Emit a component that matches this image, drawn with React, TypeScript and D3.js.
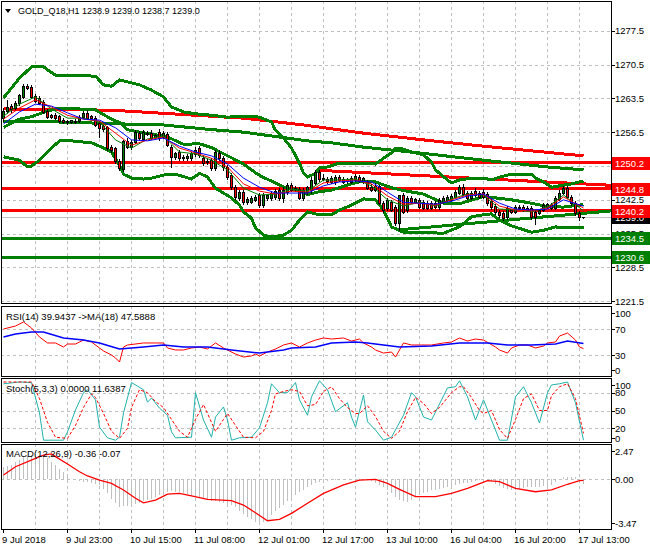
import React from 'react';
import * as d3 from 'd3';

// H1 bars, [open, high, low, close]
const ohlc: number[][] = [
  [1259.4, 1261.5, 1258.8, 1260.9], [1260.9, 1263.2, 1260.5, 1261.7], [1261.9, 1262.3, 1260.7, 1261.3],
  [1261.5, 1262.9, 1261.1, 1262.5], [1262.5, 1264.4, 1262.1, 1264.2], [1263.8, 1266.5, 1263.6, 1266.0],
  [1266.0, 1266.5, 1265.4, 1265.6], [1265.8, 1266.3, 1263.6, 1263.8], [1264.0, 1264.4, 1262.7, 1262.9],
  [1263.6, 1264.0, 1262.3, 1262.5], [1262.7, 1263.2, 1260.5, 1260.7], [1260.9, 1261.3, 1259.4, 1259.6],
  [1260.0, 1260.3, 1259.4, 1259.6], [1260.0, 1260.5, 1259.2, 1259.4], [1259.8, 1260.0, 1258.6, 1258.8],
  [1259.0, 1259.4, 1258.4, 1258.6], [1258.6, 1259.0, 1258.2, 1258.8], [1258.6, 1259.0, 1258.4, 1259.0],
  [1258.8, 1259.2, 1258.4, 1258.6], [1258.8, 1260.0, 1258.6, 1259.6], [1259.6, 1260.9, 1259.4, 1260.5],
  [1260.5, 1261.1, 1259.2, 1259.4], [1259.8, 1260.0, 1259.2, 1259.4], [1259.4, 1259.8, 1257.8, 1258.0],
  [1258.4, 1258.8, 1255.5, 1257.4], [1257.8, 1258.0, 1256.7, 1257.1], [1257.6, 1257.8, 1252.8, 1253.2],
  [1253.4, 1253.8, 1252.4, 1252.8], [1253.2, 1253.4, 1250.1, 1250.5], [1250.5, 1250.9, 1248.7, 1249.1],
  [1248.9, 1254.9, 1248.5, 1254.7], [1254.7, 1255.3, 1253.2, 1253.4], [1253.4, 1254.9, 1253.0, 1254.5],
  [1254.5, 1256.9, 1254.3, 1256.5], [1256.3, 1256.7, 1254.9, 1255.3], [1255.1, 1256.9, 1254.9, 1256.5],
  [1256.3, 1256.7, 1255.9, 1256.1], [1256.3, 1256.9, 1255.1, 1255.3], [1255.5, 1256.1, 1255.1, 1255.9],
  [1256.5, 1257.1, 1254.9, 1255.3], [1255.5, 1256.7, 1255.3, 1256.3], [1256.1, 1256.5, 1253.6, 1253.8],
  [1253.4, 1253.8, 1249.3, 1251.4], [1251.4, 1252.4, 1250.9, 1252.2], [1252.4, 1252.8, 1250.7, 1251.1],
  [1251.4, 1251.8, 1250.7, 1251.1], [1251.1, 1252.0, 1250.7, 1251.6], [1251.1, 1252.4, 1250.7, 1252.2],
  [1252.0, 1253.4, 1251.6, 1252.8], [1253.2, 1253.6, 1251.4, 1251.8], [1251.1, 1251.8, 1249.7, 1250.1],
  [1250.3, 1250.9, 1249.9, 1250.5], [1250.7, 1251.1, 1248.7, 1249.1], [1249.1, 1252.8, 1248.7, 1252.4],
  [1252.2, 1252.8, 1250.7, 1251.1], [1251.1, 1251.6, 1248.7, 1249.3], [1249.3, 1249.7, 1246.8, 1247.2],
  [1247.6, 1248.0, 1244.7, 1245.1], [1245.1, 1245.6, 1242.7, 1243.1], [1242.9, 1244.5, 1242.5, 1244.1],
  [1244.1, 1244.5, 1241.6, 1242.0], [1242.0, 1243.1, 1241.6, 1242.7], [1242.0, 1243.3, 1241.8, 1242.9],
  [1242.5, 1243.5, 1242.2, 1243.1], [1243.5, 1243.9, 1241.0, 1241.4], [1241.4, 1243.9, 1241.0, 1243.5],
  [1242.9, 1243.7, 1242.5, 1243.5], [1242.9, 1244.3, 1242.5, 1243.9], [1243.1, 1244.7, 1242.7, 1244.3],
  [1244.5, 1244.9, 1242.5, 1242.9], [1242.9, 1245.1, 1242.0, 1244.5], [1244.1, 1246.0, 1243.7, 1245.6],
  [1245.6, 1246.0, 1244.3, 1244.5], [1244.9, 1245.4, 1244.3, 1244.7], [1244.7, 1245.1, 1242.7, 1242.9],
  [1242.9, 1244.9, 1242.5, 1244.5], [1244.1, 1245.4, 1243.7, 1245.1], [1244.5, 1247.2, 1243.9, 1246.6],
  [1246.0, 1248.7, 1245.6, 1248.2], [1248.2, 1248.7, 1246.4, 1246.8], [1247.0, 1247.8, 1246.6, 1246.8],
  [1246.8, 1247.2, 1246.0, 1246.4], [1246.2, 1247.4, 1246.0, 1247.0], [1246.2, 1247.6, 1245.8, 1247.2],
  [1247.2, 1247.6, 1246.4, 1246.6], [1246.8, 1247.2, 1246.0, 1246.2], [1246.4, 1247.0, 1246.0, 1246.6],
  [1246.2, 1247.4, 1246.0, 1247.0], [1246.6, 1247.8, 1246.4, 1247.4], [1247.2, 1247.6, 1246.2, 1246.4],
  [1246.2, 1247.2, 1246.0, 1247.0], [1246.2, 1246.6, 1244.7, 1244.9], [1245.1, 1245.8, 1244.3, 1244.5],
  [1244.5, 1246.0, 1244.3, 1245.4], [1245.4, 1245.6, 1241.6, 1241.8], [1241.8, 1242.2, 1240.0, 1240.4],
  [1240.8, 1242.9, 1240.4, 1242.5], [1242.0, 1242.5, 1240.2, 1240.4], [1241.0, 1241.4, 1237.3, 1237.7],
  [1237.7, 1243.5, 1236.2, 1243.5], [1243.5, 1243.9, 1239.8, 1240.0], [1240.4, 1243.3, 1240.0, 1242.9],
  [1242.9, 1243.3, 1241.8, 1242.0], [1242.0, 1242.9, 1241.8, 1242.7], [1242.5, 1242.9, 1240.8, 1241.0],
  [1242.0, 1242.5, 1240.6, 1240.8], [1241.8, 1242.2, 1240.6, 1240.8], [1241.8, 1242.2, 1240.6, 1240.8],
  [1241.8, 1242.2, 1240.8, 1241.0], [1241.0, 1242.9, 1240.6, 1242.5], [1242.0, 1243.3, 1241.8, 1242.9],
  [1242.5, 1243.5, 1242.2, 1243.1], [1242.5, 1243.7, 1242.2, 1243.3], [1243.1, 1244.5, 1242.9, 1244.1],
  [1243.9, 1245.6, 1243.7, 1245.1], [1245.1, 1245.8, 1243.5, 1243.7], [1243.9, 1244.3, 1242.7, 1242.9],
  [1242.9, 1244.3, 1242.7, 1243.9], [1244.3, 1244.9, 1243.3, 1243.5], [1243.9, 1244.3, 1242.9, 1243.1],
  [1244.1, 1244.7, 1242.9, 1243.1], [1243.7, 1244.1, 1241.4, 1241.8], [1242.2, 1242.7, 1240.6, 1241.0],
  [1241.2, 1241.6, 1239.6, 1240.0], [1240.0, 1240.4, 1238.9, 1239.4], [1239.8, 1240.2, 1238.3, 1238.7],
  [1238.9, 1241.2, 1238.5, 1240.8], [1240.4, 1240.6, 1239.8, 1240.0], [1240.0, 1241.4, 1239.8, 1241.0],
  [1241.0, 1241.4, 1240.6, 1240.8], [1241.0, 1241.4, 1240.2, 1240.4], [1240.8, 1241.2, 1240.2, 1240.4],
  [1240.8, 1241.2, 1238.5, 1238.9], [1240.0, 1240.4, 1237.5, 1238.9], [1239.8, 1240.6, 1239.6, 1240.4],
  [1240.4, 1241.8, 1240.2, 1241.4], [1241.0, 1241.8, 1240.8, 1241.6], [1241.4, 1241.8, 1240.6, 1240.8],
  [1240.8, 1243.3, 1240.6, 1242.9], [1242.7, 1244.5, 1242.5, 1243.9], [1243.9, 1245.4, 1243.7, 1244.9],
  [1244.9, 1245.4, 1242.9, 1243.1], [1243.1, 1243.5, 1241.4, 1241.8], [1241.8, 1242.2, 1239.4, 1239.8],
  [1239.8, 1240.2, 1238.3, 1238.9], [1238.9, 1239.0, 1238.7, 1239.0],
];

// [bar, price]
const maBlue = [[0, 1258.2], [4, 1260.7], [8, 1262.3], [12, 1261.9], [16, 1260.5], [20, 1259.2], [24, 1259.0], [28, 1257.4], [32, 1254.9], [36, 1254.7], [40, 1255.3], [44, 1253.6], [48, 1252.4], [52, 1251.6], [56, 1249.9], [60, 1247.0], [64, 1245.1], [68, 1243.9], [72, 1243.9], [76, 1243.9], [80, 1245.4], [84, 1246.2], [88, 1246.4], [92, 1246.2], [96, 1244.1], [100, 1242.0], [104, 1241.8], [108, 1241.6], [112, 1242.2], [116, 1243.3], [120, 1243.7], [124, 1241.8], [128, 1240.6], [132, 1240.4], [136, 1240.6], [140, 1242.5], [145, 1241.2]];
const maRed = [[0, 1259.2], [4, 1261.5], [8, 1263.2], [12, 1261.7], [16, 1260.0], [20, 1259.2], [24, 1258.8], [28, 1256.3], [32, 1253.8], [36, 1254.9], [40, 1255.5], [44, 1253.2], [48, 1252.2], [52, 1251.1], [56, 1249.3], [60, 1245.8], [64, 1244.3], [68, 1243.7], [72, 1244.3], [76, 1244.1], [80, 1246.0], [84, 1246.4], [88, 1246.6], [92, 1245.8], [96, 1243.3], [100, 1241.6], [104, 1241.8], [108, 1241.4], [112, 1242.5], [116, 1243.5], [120, 1243.7], [124, 1241.2], [128, 1240.4], [132, 1240.2], [136, 1240.8], [140, 1243.1], [145, 1240.8]];
const maGreen = [[0, 1259.8], [4, 1262.3], [8, 1263.8], [12, 1261.3], [16, 1259.4], [20, 1259.4], [24, 1258.6], [28, 1254.9], [32, 1253.2], [36, 1255.1], [40, 1255.7], [44, 1252.4], [48, 1252.0], [52, 1250.7], [56, 1248.7], [60, 1244.9], [64, 1243.5], [68, 1243.7], [72, 1244.7], [76, 1244.3], [80, 1246.6], [84, 1246.6], [88, 1246.8], [92, 1245.4], [96, 1242.5], [100, 1241.2], [104, 1242.0], [108, 1241.2], [112, 1242.7], [116, 1243.7], [120, 1243.5], [124, 1240.6], [128, 1240.4], [132, 1240.0], [136, 1241.0], [140, 1243.5], [145, 1240.2]];

const bandUpper = [[0, 1263.6], [4, 1267.7], [7, 1270.0], [10, 1270.0], [13, 1268.3], [23, 1268.1], [25, 1266.3], [27, 1266.0], [29, 1267.3], [31, 1266.9], [34, 1266.3], [37, 1265.2], [40, 1263.8], [42, 1261.7], [45, 1260.7], [48, 1260.3], [52, 1260.0], [56, 1259.6], [59, 1259.8], [62, 1259.8], [64, 1259.6], [67, 1258.6], [68, 1256.9], [70, 1255.3], [72, 1253.2], [74, 1250.1], [75, 1248.0], [76, 1247.2], [78, 1248.0], [79, 1249.1], [81, 1249.3], [84, 1250.1], [87, 1250.1], [90, 1250.1], [93, 1249.9], [95, 1251.1], [97, 1252.2], [98, 1253.2], [100, 1253.0], [102, 1252.4], [105, 1251.8], [107, 1250.3], [108, 1248.7], [111, 1246.6], [112, 1246.0], [114, 1246.6], [117, 1247.0], [120, 1247.0], [122, 1246.6], [124, 1247.2], [127, 1247.8], [132, 1247.8], [133, 1247.0], [135, 1246.2], [137, 1245.1], [139, 1245.4], [142, 1245.8], [145, 1246.4]];
const bandMiddle = [[0, 1257.5], [4, 1259.2], [7, 1259.7], [10, 1260.6], [13, 1261.3], [17, 1261.4], [23, 1261.1], [27, 1259.2], [29, 1258.5], [31, 1257.0], [34, 1256.5], [37, 1256.1], [41, 1255.5], [45, 1254.0], [49, 1254.1], [52, 1253.3], [57, 1251.2], [60, 1249.9], [63, 1248.1], [65, 1247.1], [67, 1246.4], [70, 1245.2], [72, 1244.7], [74, 1244.5], [76, 1243.6], [79, 1244.2], [82, 1244.5], [87, 1245.8], [90, 1246.4], [93, 1246.2], [97, 1245.0], [100, 1244.4], [105, 1243.7], [110, 1241.8], [114, 1241.7], [120, 1243.2], [124, 1242.8], [127, 1242.5], [132, 1241.8], [136, 1241.1], [140, 1241.0], [145, 1241.5]];
const bandLower = [[0, 1251.4], [4, 1250.7], [6, 1249.3], [7, 1249.5], [9, 1250.7], [12, 1253.2], [14, 1254.7], [17, 1254.7], [22, 1254.3], [24, 1253.6], [27, 1252.4], [29, 1249.7], [30, 1247.8], [32, 1247.0], [35, 1246.8], [37, 1247.0], [41, 1247.8], [43, 1247.8], [47, 1246.8], [49, 1248.0], [51, 1247.2], [53, 1244.9], [57, 1242.9], [59, 1241.4], [60, 1240.0], [62, 1238.7], [63, 1236.7], [65, 1235.2], [67, 1234.8], [70, 1235.2], [72, 1236.2], [74, 1238.3], [76, 1240.0], [79, 1239.4], [82, 1239.4], [84, 1240.4], [87, 1241.4], [90, 1242.7], [93, 1242.5], [95, 1240.4], [97, 1236.9], [100, 1235.8], [110, 1235.6], [114, 1236.9], [117, 1239.0], [120, 1239.4], [122, 1239.6], [124, 1238.3], [127, 1237.1], [132, 1235.8], [135, 1236.2], [138, 1236.9], [140, 1236.7], [145, 1236.7]];
const maSlowGreen = [[0, 1258.8], [14, 1258.6], [30, 1258.2], [40, 1258.0], [51, 1257.1], [60, 1256.5], [69, 1255.5], [76, 1254.7], [82, 1254.3], [90, 1253.4], [104, 1252.2], [120, 1250.7], [127, 1250.1], [136, 1249.3], [145, 1248.7]];
const maSlowRed = [[0, 1261.3], [23, 1261.1], [30, 1260.9], [60, 1259.4], [75, 1258.0], [90, 1256.3], [105, 1254.9], [120, 1253.6], [145, 1251.6]];

// trend lines drawn as rays: two anchors [bar, price]
const trendRed = [[79, 1248.6], [145, 1245.8]];
const trendGreen = [[99, 1236.3], [145, 1239.7]];

const redLevels = [1250.2, 1244.8, 1240.2];
const greenLevels = [1234.5, 1230.6];
const lastPrice = 1239.0;
const priceTicks = [1277.5, 1270.5, 1263.5, 1256.5, 1249.5, 1242.5, 1235.5, 1228.5, 1221.5];

const timeBars = [0, 16, 32, 48, 64, 80, 96, 112, 128, 144];
const timeLabels = ['9 Jul 2018', '9 Jul 23:00', '10 Jul 15:00', '11 Jul 08:00', '12 Jul 01:00', '12 Jul 17:00', '13 Jul 10:00', '16 Jul 04:00', '16 Jul 20:00', '17 Jul 13:00'];

const rsi = [[0, 70], [3, 74.6], [5, 80.8], [7, 71.5], [9, 57.7], [11, 48.5], [13, 48.5], [15, 42.3], [16, 46.9], [18, 46.9], [20, 53], [22, 50], [24, 40.8], [25, 36.2], [27, 30], [28, 25.4], [29, 19.2], [30, 42.3], [31, 45.4], [35, 48.5], [38, 48.5], [40, 48.5], [41, 40.8], [43, 37.7], [45, 37.7], [47, 40.8], [49, 42.3], [51, 39.2], [53, 48.5], [55, 40.8], [56, 37.7], [58, 31.5], [60, 26.9], [62, 28.5], [63, 31.5], [64, 28.5], [66, 34.6], [68, 39.2], [70, 45.4], [72, 48.5], [74, 42.3], [76, 48.5], [78, 53], [80, 56.2], [82, 54.6], [85, 56.2], [87, 51.5], [89, 54.6], [90, 48.5], [92, 42.3], [93, 37.7], [95, 33], [97, 34.6], [98, 26.9], [100, 48.5], [102, 45.4], [104, 45.4], [107, 45.4], [110, 48.5], [112, 50], [114, 56.2], [116, 51.5], [118, 54.6], [120, 53], [123, 42.3], [124, 37.7], [126, 33], [127, 40.8], [129, 45.4], [131, 45.4], [133, 40.8], [135, 43.8], [136, 48.5], [138, 50], [139, 59.2], [141, 63.8], [143, 53], [144, 42.3], [145, 39.9]];
const rsiMa = [[0, 57.7], [3, 62.3], [7, 65.4], [10, 65.4], [15, 56.2], [20, 53], [24, 48.5], [29, 39.2], [35, 42.3], [40, 45.4], [45, 42.3], [51, 42.3], [57, 37.7], [64, 33], [70, 37.7], [72, 40.8], [78, 42.3], [82, 48.5], [88, 50], [91, 48.5], [97, 43.8], [99, 42.3], [107, 43.8], [114, 48.5], [121, 48.5], [126, 45.4], [132, 45.4], [138, 46.9], [141, 51.5], [145, 47.6]];

const stochMain = [[0, 95], [4, 98], [7, 97], [9, 46], [10, 0], [15, 0], [16, 14], [18, 51], [20, 80], [21, 85], [23, 68], [24, 22], [26, 4], [28, 0], [29, 5], [30, 46], [32, 97], [35, 85], [36, 64], [37, 71], [39, 54], [41, 42], [42, 14], [43, 4], [47, 5], [48, 80], [50, 34], [52, 5], [53, 39], [55, 56], [56, 34], [57, 0], [59, 4], [62, 5], [64, 21], [66, 63], [67, 95], [69, 80], [71, 80], [73, 97], [74, 68], [76, 42], [77, 73], [79, 100], [81, 85], [83, 48], [86, 63], [87, 39], [88, 22], [90, 76], [91, 31], [93, 17], [95, 0], [97, 5], [100, 42], [102, 80], [103, 73], [105, 39], [107, 34], [111, 88], [113, 90], [114, 100], [116, 73], [118, 34], [120, 68], [122, 34], [124, 0], [126, 0], [128, 73], [130, 90], [132, 63], [134, 29], [136, 80], [137, 93], [139, 95], [141, 98], [143, 63], [145, 0]];
const stochSignal = [[0, 98], [7, 98], [9, 70], [11, 30], [13, 5], [16, 3], [18, 25], [20, 55], [22, 78], [23, 72], [25, 45], [27, 15], [29, 3], [31, 20], [32, 55], [34, 85], [36, 80], [38, 65], [40, 55], [42, 35], [44, 15], [46, 5], [48, 35], [50, 60], [52, 30], [53, 15], [55, 35], [56, 45], [58, 25], [60, 5], [63, 4], [65, 15], [67, 50], [68, 78], [70, 82], [72, 85], [74, 82], [76, 58], [78, 60], [80, 82], [82, 90], [84, 70], [86, 55], [88, 45], [89, 45], [91, 58], [93, 40], [95, 15], [97, 3], [99, 15], [101, 48], [103, 72], [105, 62], [107, 45], [109, 55], [112, 80], [114, 90], [115, 90], [117, 72], [119, 50], [120, 45], [122, 50], [124, 18], [126, 3], [128, 35], [130, 70], [132, 78], [134, 50], [136, 50], [137, 75], [139, 90], [141, 95], [143, 70], [145, 11.6]];

const macdHist = [
  0.94, 1.0, 1.1, 1.3, 1.45, 1.68, 1.75, 1.82, 1.88, 1.82,
  1.73, 1.55, 1.31, 1.05, 0.77, 0.55, 0.33, 0.05, -0.05, -0.1,
  -0.16, -0.2, -0.25, -0.32, -0.4, -0.7, -1.02, -1.4, -1.75, -2.0,
  -1.95, -1.92, -1.88, -1.8, -1.7, -1.6, -1.51, -1.4, -1.25, -1.14,
  -1.0, -0.9, -0.85, -0.9, -0.95, -1.02, -1.1, -1.18, -1.26, -1.35,
  -1.43, -1.51, -1.55, -1.6, -1.63, -1.7, -1.8, -1.9, -2.0, -2.3,
  -2.55, -2.74, -2.9, -3.1, -3.1, -3.1, -2.95, -2.61, -2.35, -2.1,
  -1.88, -1.6, -1.4, -1.14, -0.95, -0.75, -0.53, -0.4, -0.28, -0.16,
  -0.12, -0.08, -0.05, -0.04, -0.02, 0.0, 0.0, -0.01, -0.02, -0.02,
  -0.05, -0.07, -0.09, -0.25, -0.4, -0.53, -0.78, -1.02, -1.25, -1.51,
  -1.58, -1.63, -1.5, -1.26, -1.15, -1.0, -0.9, -0.8, -0.75, -0.7,
  -0.65, -0.55, -0.48, -0.4, -0.35, -0.28, -0.23, -0.15, -0.08, -0.04,
  -0.05, -0.07, -0.09, -0.3, -0.5, -0.65, -0.7, -0.75, -0.77, -0.7,
  -0.6, -0.53, -0.53, -0.53, -0.53, -0.5, -0.45, -0.4, -0.2, 0.0,
  0.16, 0.18, 0.16, 0.16, -0.1, -0.36,
];
const macdSignal = [[0, 0.33], [3, 0.94], [8, 1.56], [10, 1.8], [12, 1.88], [13, 1.68], [16, 1.14], [19, 0.57], [21, 0.26], [24, -0.04], [27, -0.28], [30, -0.77], [33, -1.38], [35, -1.71], [38, -1.51], [41, -1.07], [44, -1.02], [47, -1.21], [51, -1.46], [57, -1.56], [60, -1.88], [63, -2.44], [66, -3.03], [69, -2.93], [72, -2.49], [76, -1.75], [80, -1.02], [85, -0.4], [89, -0.04], [93, 0.01], [96, -0.28], [99, -0.72], [103, -1.26], [108, -1.26], [112, -1.02], [116, -0.65], [121, -0.09], [124, -0.16], [128, -0.65], [133, -0.9], [137, -0.77], [141, -0.35], [144, -0.09], [145, -0.07]];

const FONT = "'Liberation Sans', Arial, sans-serif";
const GRID = '#c0c0c0';
const plotL = 1;
const plotR = 611;
const mainP = { top: 1, bottom: 303 };
const rsiP = { top: 306, bottom: 376 };
const stoP = { top: 378, bottom: 442 };
const macP = { top: 444, bottom: 529 };

const App = () => {
  const x = d3.scaleLinear().domain([0, 145]).range([3.5, 583.5]);
  const yMain = d3.scaleLinear().domain([1221.5, 1277.5]).range([301.3, 30.7]);
  const yRsi = d3.scaleLinear().domain([0, 100]).range([374.5, 309.5]);
  const ySto = d3.scaleLinear().domain([0, 100]).range([440.2, 380.8]);
  const yMac = d3.scaleLinear().domain([-3.47, 2.47]).range([526.7, 445.9]);

  const mainLine = d3.line<number[]>().x((d) => x(d[0])).y((d) => yMain(d[1]));
  const rsiLine = d3.line<number[]>().x((d) => x(d[0])).y((d) => yRsi(d[1]));
  const stoLine = d3.line<number[]>().x((d) => x(d[0])).y((d) => ySto(d[1]));
  const macLine = d3.line<number[]>().x((d) => x(d[0])).y((d) => yMac(d[1]));

  // extend a two-point trend line to the right edge
  const ray = (t: number[][]) => {
    const slope = (t[1][1] - t[0][1]) / (t[1][0] - t[0][0]);
    const endBar = x.invert(plotR);
    return [t[0], [endBar, t[0][1] + slope * (endBar - t[0][0])]];
  };

  const gridBars = d3.range(8, 146, 8);
  const clampLabel = (p: { top: number; bottom: number }, y: number) =>
    Math.max(p.top + 7, Math.min(p.bottom - 6, y));

  const vGrid = (p: { top: number; bottom: number }) =>
    gridBars.map((b) => (
      <line key={b} x1={Math.floor(x(b)) + 0.5} x2={Math.floor(x(b)) + 0.5} y1={p.top} y2={p.bottom}
        stroke={GRID} strokeDasharray="3,3" />
    ));
  const hGrid = (ys: number[], k: string) =>
    ys.map((y, i) => (
      <line key={k + i} x1={plotL} x2={plotR} y1={Math.round(y) + 0.5} y2={Math.round(y) + 0.5}
        stroke={GRID} strokeDasharray="3,3" />
    ));
  const frame = (p: { top: number; bottom: number }) => (
    <rect x={plotL + 0.5} y={p.top + 0.5} width={plotR - plotL} height={p.bottom - p.top}
      fill="none" stroke="#000" />
  );
  const axisLabel = (y: number, text: string, k: string) => (
    <g key={k}>
      <line x1={plotR} x2={plotR + 4} y1={Math.round(y) + 0.5} y2={Math.round(y) + 0.5} stroke="#000" />
      <text x={615} y={y} dominantBaseline="central" fill="#000">{text}</text>
    </g>
  );
  const levelBox = (v: number, fill: string, k: string) => (
    <g key={k}>
      <rect x={612} y={Math.round(yMain(v)) - 6} width={38} height={13} fill={fill} />
      <text x={615} y={Math.round(yMain(v)) + 0.5} dominantBaseline="central" fill="#fff">{v.toFixed(1)}</text>
    </g>
  );

  return (
    <svg width={650} height={550} style={{ position: 'absolute', left: 0, top: 0, background: '#fff' }}
      fontFamily={FONT} fontSize={9.5}>
      <defs>
        <clipPath id="clipMain"><rect x={plotL + 1} y={mainP.top + 1} width={plotR - plotL - 1} height={mainP.bottom - mainP.top - 1} /></clipPath>
        <clipPath id="clipRsi"><rect x={plotL + 1} y={rsiP.top + 1} width={plotR - plotL - 1} height={rsiP.bottom - rsiP.top - 1} /></clipPath>
        <clipPath id="clipSto"><rect x={plotL + 1} y={stoP.top + 1} width={plotR - plotL - 1} height={stoP.bottom - stoP.top - 1} /></clipPath>
        <clipPath id="clipMac"><rect x={plotL + 1} y={macP.top + 1} width={plotR - plotL - 1} height={macP.bottom - macP.top - 1} /></clipPath>
      </defs>
      <rect width={650} height={550} fill="#fff" />

      {/* main window */}
      <g clipPath="url(#clipMain)">
        <g shapeRendering="crispEdges">
          {vGrid(mainP)}
          {hGrid(priceTicks.map((p) => yMain(p)), 'pg')}
          <line x1={plotL} x2={plotR} y1={Math.round(yMain(lastPrice)) + 0.5} y2={Math.round(yMain(lastPrice)) + 0.5} stroke="#c0c0c0" />
        </g>
        <g shapeRendering="crispEdges">
          {redLevels.map((v) => (
            <line key={v} x1={plotL} x2={plotR} y1={yMain(v)} y2={yMain(v)} stroke="#ff0000" strokeWidth={3} />
          ))}
          {greenLevels.map((v) => (
            <line key={v} x1={plotL} x2={plotR} y1={yMain(v)} y2={yMain(v)} stroke="#008000" strokeWidth={3} />
          ))}
          <path d={mainLine(ray(trendRed)) ?? ''} fill="none" stroke="#ff0000" strokeWidth={3} />
          <path d={mainLine(ray(trendGreen)) ?? ''} fill="none" stroke="#008000" strokeWidth={3} />
          <path d={mainLine(maSlowRed) ?? ''} fill="none" stroke="#ff0000" strokeWidth={3} />
          <path d={mainLine(maSlowGreen) ?? ''} fill="none" stroke="#008000" strokeWidth={3} />
          {[bandUpper, bandMiddle, bandLower].map((b, i) => (
            <path key={i} d={mainLine(b) ?? ''} fill="none" stroke="#008000" strokeWidth={3} strokeLinejoin="round" />
          ))}
        </g>
        <g shapeRendering="crispEdges">
          {ohlc.map((c, i) => {
            const px = Math.floor(x(i));
            const [o, h, l, cl] = c;
            const top = Math.round(yMain(Math.max(o, cl)));
            const bot = Math.round(yMain(Math.min(o, cl)));
            return (
              <g key={i}>
                <line x1={px + 0.5} x2={px + 0.5} y1={Math.round(yMain(h))} y2={Math.round(yMain(l)) + 1} stroke="#000" />
                {bot - top >= 1 ? (
                  <rect x={px - 0.5} y={top + 0.5} width={2} height={bot - top} fill={cl >= o ? '#008000' : '#ff0000'} stroke="#000" />
                ) : (
                  <line x1={px - 1} x2={px + 2} y1={top + 0.5} y2={top + 0.5} stroke="#000" />
                )}
              </g>
            );
          })}
        </g>
        <path d={mainLine(maGreen) ?? ''} fill="none" stroke="#008000" strokeWidth={1} />
        <path d={mainLine(maRed) ?? ''} fill="none" stroke="#ff0000" strokeWidth={1} />
        <path d={mainLine(maBlue) ?? ''} fill="none" stroke="#0000ff" strokeWidth={1} />
      </g>
      <g shapeRendering="crispEdges">{frame(mainP)}</g>
      <path d="M5,9 L11,9 L8,13 Z" fill="#000" />
      <text x={18} y={11} dominantBaseline="central" fill="#000" fontSize={9}>GOLD_Q18,H1  1238.9 1239.0 1238.7 1239.0</text>
      <g shapeRendering="crispEdges">
        {priceTicks.map((p) => axisLabel(yMain(p), p.toFixed(1), 'pt' + p))}
      </g>
      <g shapeRendering="crispEdges">
        <rect x={612} y={Math.round(yMain(lastPrice)) - 6} width={38} height={13} fill="#000" />
        <text x={615} y={Math.round(yMain(lastPrice)) + 0.5} dominantBaseline="central" fill="#fff">{lastPrice.toFixed(1)}</text>
        {greenLevels.map((v) => levelBox(v, '#008000', 'g' + v))}
        {redLevels.map((v) => levelBox(v, '#ff0000', 'r' + v))}
      </g>

      {/* RSI */}
      <g clipPath="url(#clipRsi)">
        <g shapeRendering="crispEdges">
          {vGrid(rsiP)}
          {hGrid([yRsi(70), yRsi(30)], 'rg')}
        </g>
        <path d={rsiLine(rsi) ?? ''} fill="none" stroke="#ff0000" strokeWidth={1} />
        <path d={rsiLine(rsiMa) ?? ''} fill="none" stroke="#0000ff" strokeWidth={1.5} />
      </g>
      <g shapeRendering="crispEdges">{frame(rsiP)}</g>
      <text x={6} y={316} dominantBaseline="central">RSI(14) 39.9437  -&gt;MA(18) 47.5888</text>
      {[100, 70, 30, 0].map((v) => axisLabel(clampLabel(rsiP, yRsi(v)), String(v), 'rl' + v))}

      {/* Stochastic */}
      <g clipPath="url(#clipSto)">
        <g shapeRendering="crispEdges">
          {vGrid(stoP)}
          {hGrid([ySto(80), ySto(50), ySto(20)], 'sg')}
        </g>
        <path d={stoLine(stochMain) ?? ''} fill="none" stroke="#20b2aa" strokeWidth={1} />
        <path d={stoLine(stochSignal) ?? ''} fill="none" stroke="#ff0000" strokeWidth={1} strokeDasharray="3,2" />
      </g>
      <g shapeRendering="crispEdges">{frame(stoP)}</g>
      <text x={6} y={388} dominantBaseline="central">Stoch(5,3,3) 0.0000 11.6387</text>
      {[100, 80, 50, 20, 0].map((v) => axisLabel(Math.max(stoP.top + 7, Math.min(stoP.bottom - 4, ySto(v))), String(v), 'sl' + v))}

      {/* MACD */}
      <g clipPath="url(#clipMac)">
        <g shapeRendering="crispEdges">
          {vGrid(macP)}
          {hGrid([yMac(0)], 'mg')}
          {macdHist.map((v, i) => (
            <line key={i} x1={Math.floor(x(i)) + 0.5} x2={Math.floor(x(i)) + 0.5}
              y1={Math.round(yMac(0))} y2={Math.round(yMac(v))} stroke="#c0c0c0" />
          ))}
        </g>
        <path d={macLine(macdSignal) ?? ''} fill="none" stroke="#ff0000" strokeWidth={1.3} />
      </g>
      <g shapeRendering="crispEdges">{frame(macP)}</g>
      <text x={6} y={453} dominantBaseline="central">MACD(12,26,9) -0.36 -0.07</text>
      {[2.47, 0, -3.47].map((v) => axisLabel(clampLabel(macP, yMac(v)), v.toFixed(2), 'ml' + v))}

      {/* time axis */}
      <g shapeRendering="crispEdges">
        {timeBars.map((b) => (
          <line key={b} x1={Math.floor(x(b)) + 0.5} x2={Math.floor(x(b)) + 0.5} y1={macP.bottom} y2={macP.bottom + 4} stroke="#000" />
        ))}
      </g>
      {timeBars.map((b, i) => (
        <text key={b} x={x(b) - 1.5} y={539} dominantBaseline="central">{timeLabels[i]}</text>
      ))}
    </svg>
  );
};

export default App;
